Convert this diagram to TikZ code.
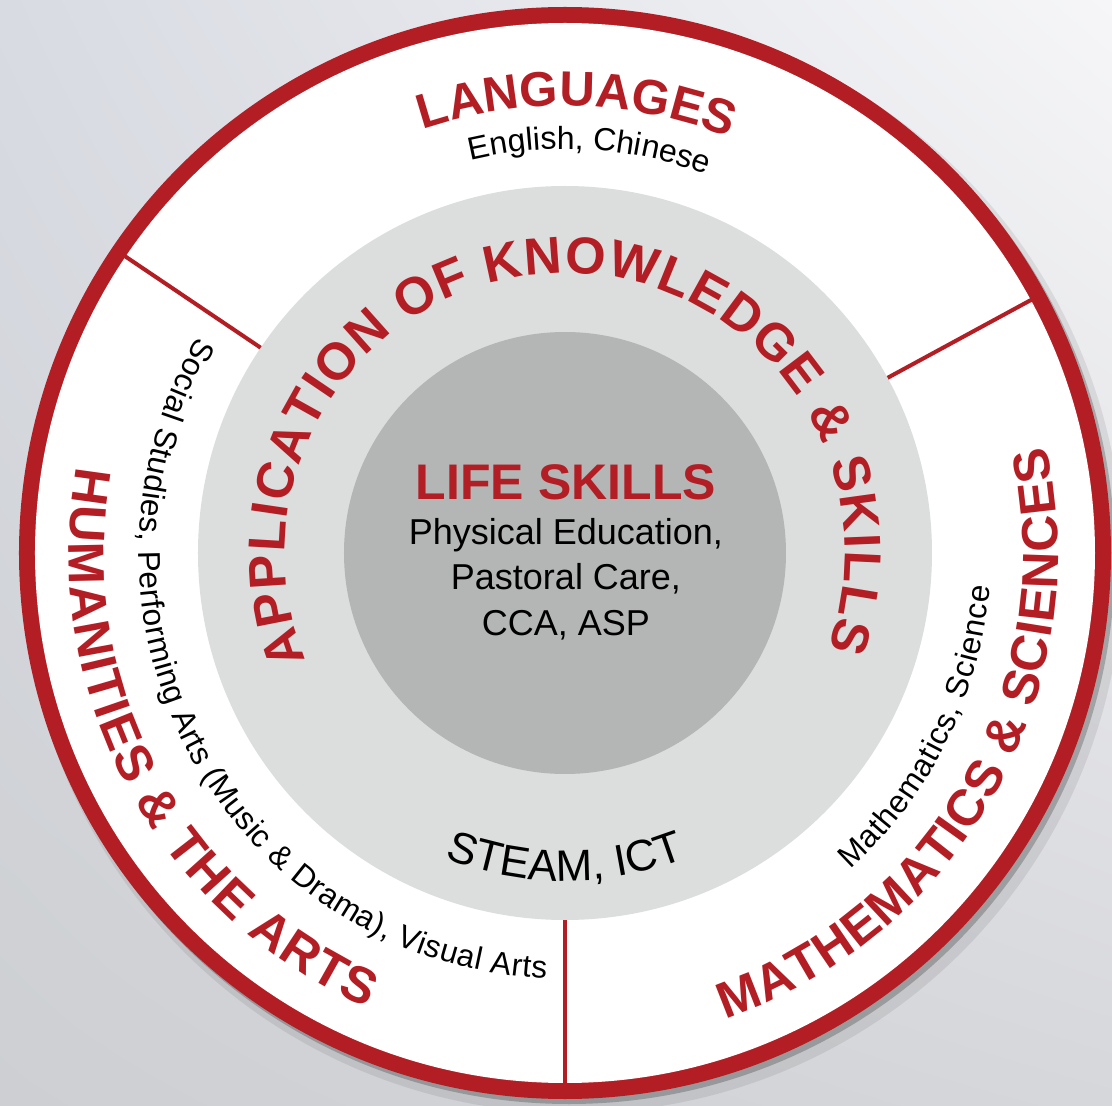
\documentclass[tikz,border=0pt]{standalone}
\usepackage{fontspec}
\setmainfont{Liberation Sans}
\usetikzlibrary{decorations.text,shadings}
\definecolor{myred}{RGB}{178,30,36}
\definecolor{ringgray}{RGB}{220,221,221}
\definecolor{coregray}{RGB}{180,181,181}
\definecolor{bgUL}{RGB}{216,219,226}
\definecolor{bgUR}{RGB}{246,246,248}
\definecolor{bgLL}{RGB}{205,207,210}
\definecolor{bgLR}{RGB}{214,215,219}
\newcommand\fLang{\bfseries\fontsize{49}{49}\selectfont}
\newcommand\fApp{\bfseries\fontsize{52}{52}\selectfont}
\newcommand\fSide{\bfseries\fontsize{51}{51}\selectfont}
\newcommand\fLife{\bfseries\fontsize{50}{50}\selectfont}
\newcommand\fBody{\fontsize{36}{45}\selectfont}
\newcommand\fSub{\fontsize{32}{32}\selectfont}
\newcommand\fSubB{\fontsize{31.5}{31.5}\selectfont}
\newcommand\fSteam{\fontsize{44}{44}\selectfont}
\begin{document}
\begin{tikzpicture}[x=1pt,y=1pt,
  divider/.style={draw=myred, line width=4pt},
  body/.style={anchor=base, font=\fBody, text=black, inner sep=0pt}]
\useasboundingbox (-565,-553) rectangle (547,553);
% background
\shade[upper left=bgUL, upper right=bgUR, lower left=bgLL, lower right=bgLR] (-565,-553) rectangle (547,553);
% drop shadow
\fill[black, opacity=0.08] (8,-10) circle[radius=550];
\fill[black, opacity=0.22] (4,-5) circle[radius=546];
% rings
\fill[myred] (0,0) circle[radius=546];
\fill[white] (0,0) circle[radius=530];
\draw[divider] (146:531) -- (146:360);
\draw[divider] (28.5:531) -- (28.5:360);
\draw[divider] (270:531) -- (270:360);
\fill[ringgray] (0,0) circle[radius=367];
\fill[coregray] (0,0) circle[radius=221];
% top section
\path[decorate, decoration={text along path, text color=myred, text={|\fLang|LANGUAGES}, text align=center}]
  (116.5:447) arc[start angle=116.5, end angle=60.5, radius=447];
\path[decorate, decoration={text along path, text color=black, text={|\fSub|English, Chinese}, text align=center}]
  (111.5:404) arc[start angle=111.5, end angle=61.5, radius=404];
% middle ring
\path[decorate, decoration={text along path, text color=myred, text={|\fApp|APPLICATION OF KNOWLEDGE {\&} SKILLS}, text align=fit to path}]
  (202.5:280) arc[start angle=202.5, end angle=-20, radius=280];
\path[decorate, decoration={text along path, text color=black, text={|\fSteam|STEAM, ICT}, text align=center}]
  (-120:328) arc[start angle=-120, end angle=-60, radius=328];
% left section
\path[decorate, decoration={text along path, text color=myred, text={|\fSide|HUMANITIES {\&} THE ARTS}, text align=fit to path}]
  (170:496) arc[start angle=170, end angle=246.5, radius=496];
\path[decorate, decoration={text along path, text color=black, text={|\fSubB|Social Studies, Performing Arts (Music {\&} Drama), Visual Arts}, text align=fit to path}]
  (149.5:426) arc[start angle=149.5, end angle=267.5, radius=426];
% right section
\path[decorate, decoration={text along path, text color=myred, text={|\fSide|MATHEMATICS {\&} SCIENCES}, text align=fit to path}]
  (-71:493) arc[start angle=-71, end angle=12.5, radius=493];
\path[decorate, decoration={text along path, text color=black, text={|\fSubB|Mathematics, Science}, text align=fit to path}]
  (-48:426) arc[start angle=-48, end angle=-4.5, radius=426];
% core
\node[anchor=base, font=\fLife, text=myred, inner sep=0pt] (life) at (1,53) {LIFE SKILLS};
\node[body] (pe) at (1,8) {Physical Education,};
\node[body] (pc) at (1,-37) {Pastoral Care,};
\node[body] (cca) at (1,-82) {CCA, ASP};
\end{tikzpicture}
\end{document}
